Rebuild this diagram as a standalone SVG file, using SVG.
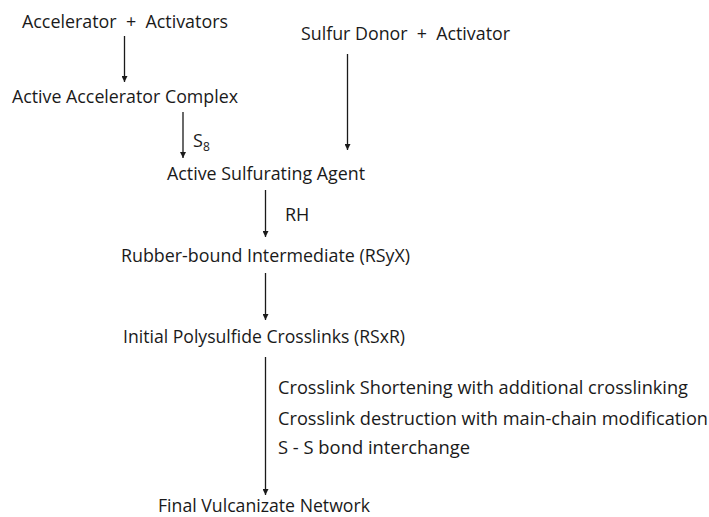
<svg xmlns="http://www.w3.org/2000/svg" width="709" height="517" viewBox="0 0 709 517">
<style>
text{font-family:"Open Sans","Noto Sans","Liberation Sans",sans-serif;font-size:18px;fill:#1a1a1a}
.c line{stroke:#1a1a1a;stroke-width:1.3}
</style>
<defs>
<marker id="ah" viewBox="0 0 10 10" refX="10" refY="5" markerWidth="6" markerHeight="6" markerUnits="userSpaceOnUse" orient="auto">
<path d="M0,0 L10,5 L0,10 z" fill="#1a1a1a"/>
</marker>
</defs>
<rect width="709" height="517" fill="#fff"/>
<g id="n1"><text x="22" y="28" textLength="206" lengthAdjust="spacingAndGlyphs" xml:space="preserve">Accelerator  +  Activators</text></g>
<g id="n2"><text x="301" y="40" textLength="209" lengthAdjust="spacingAndGlyphs" xml:space="preserve">Sulfur Donor  +  Activator</text></g>
<g id="n3"><text x="12" y="103" textLength="226" lengthAdjust="spacingAndGlyphs">Active Accelerator Complex</text></g>
<g id="n4"><text x="167" y="180" textLength="198" lengthAdjust="spacingAndGlyphs">Active Sulfurating Agent</text></g>
<g id="n5"><text x="121" y="262" textLength="289" lengthAdjust="spacingAndGlyphs">Rubber-bound Intermediate (RSyX)</text></g>
<g id="n6"><text x="123" y="343" textLength="282" lengthAdjust="spacingAndGlyphs">Initial Polysulfide Crosslinks (RSxR)</text></g>
<g id="n7"><text x="158" y="512" textLength="212" lengthAdjust="spacingAndGlyphs">Final Vulcanizate Network</text></g>
<g id="connectors" class="c">
<line x1="124.5" y1="36" x2="124.5" y2="82" marker-end="url(#ah)"/>
<line x1="183" y1="112" x2="183" y2="158" marker-end="url(#ah)"/>
<line x1="347.5" y1="54" x2="347.5" y2="150" marker-end="url(#ah)"/>
<line x1="265.5" y1="190" x2="265.5" y2="237" marker-end="url(#ah)"/>
<line x1="265.5" y1="273" x2="265.5" y2="320" marker-end="url(#ah)"/>
<line x1="265.5" y1="357" x2="265.5" y2="495" marker-end="url(#ah)"/>
</g>
<g id="labels">
<text x="193" y="147">S<tspan font-size="12" dy="4">8</tspan></text>
<text x="285" y="221">RH</text>
<text x="278" y="394" textLength="410" lengthAdjust="spacingAndGlyphs">Crosslink Shortening with additional crosslinking</text>
<text x="278" y="425" textLength="430" lengthAdjust="spacingAndGlyphs">Crosslink destruction with main-chain modification</text>
<text x="278" y="454" textLength="192" lengthAdjust="spacingAndGlyphs">S - S bond interchange</text>
</g>
</svg>
